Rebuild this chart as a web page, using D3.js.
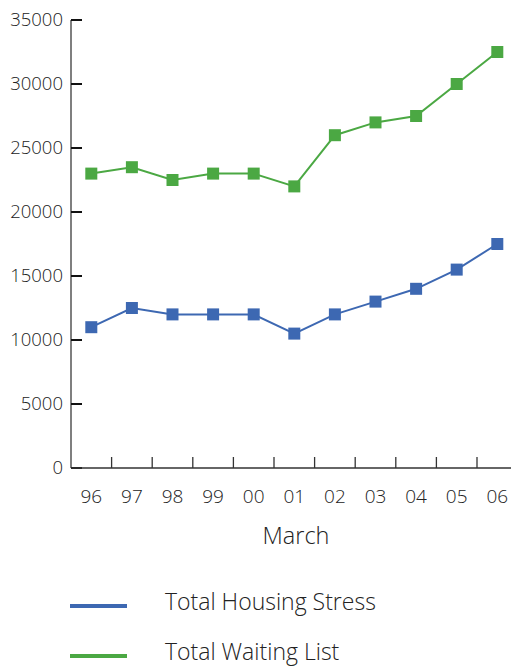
<!DOCTYPE html>
<html>
<head>
<meta charset="utf-8">
<script src="https://cdn.jsdelivr.net/npm/d3@7"></script>
<style>
  html, body { margin: 0; padding: 0; background: #fff; }
  svg { display: block; font-family: "Open Sans", "Noto Sans", sans-serif; font-weight: 300; }
</style>
</head>
<body>
<svg id="chart" width="511" height="668"></svg>
<script>
// Years (March of each year) and the two series
const years = ["96", "97", "98", "99", "00", "01", "02", "03", "04", "05", "06"];
const housingStress = [11000, 12500, 12000, 12000, 12000, 10500, 12000, 13000, 14000, 15500, 17500];
const waitingList = [23000, 23500, 22500, 23000, 23000, 22000, 26000, 27000, 27500, 30000, 32500];
const yTicks = [0, 5000, 10000, 15000, 20000, 25000, 30000, 35000];
const seriesNames = ["Total Housing Stress", "Total Waiting List"];
const seriesColors = ["#3d68b2", "#4ba843"];
const xTitle = "March";

const svg = d3.select("#chart");
const textColor = "#222";

const x = d3.scaleBand().domain(years).range([71, 517.6]).padding(0);
const y = d3.scaleLinear().domain([0, 35000]).range([468, 20]);

// y axis: spine, inward ticks, labels
svg.append("line")
  .attr("x1", 71).attr("x2", 71)
  .attr("y1", y(35000)).attr("y2", y(0))
  .attr("stroke", "#555").attr("stroke-width", 1.5);

const yt = svg.append("g");
yt.selectAll("line").data(yTicks).join("line")
  .attr("x1", 71).attr("x2", 82)
  .attr("y1", d => y(d)).attr("y2", d => y(d))
  .attr("stroke", "#111").attr("stroke-width", 2);
yt.selectAll("text").data(yTicks).join("text")
  .attr("x", 63).attr("y", d => y(d))
  .attr("dy", "0.35em")
  .attr("text-anchor", "end")
  .attr("fill", textColor)
  .attr("font-size", 18.5)
  .text(d => d);

// x axis: baseline, category boundary ticks pointing up, labels
svg.append("line")
  .attr("x1", 71).attr("x2", 517.6)
  .attr("y1", y(0)).attr("y2", y(0))
  .attr("stroke", "#333").attr("stroke-width", 1.5);

const boundaries = years.slice(1);
svg.append("g").selectAll("line").data(boundaries).join("line")
  .attr("x1", d => x(d)).attr("x2", d => x(d))
  .attr("y1", y(0)).attr("y2", y(0) - 11)
  .attr("stroke", "#333").attr("stroke-width", 1.3);

svg.append("g").selectAll("text").data(years).join("text")
  .attr("x", d => x(d) + x.bandwidth() / 2)
  .attr("y", 496)
  .attr("dy", "0.35em")
  .attr("text-anchor", "middle")
  .attr("fill", textColor)
  .attr("font-size", 19)
  .text(d => d);

svg.append("text")
  .attr("x", 296).attr("y", 536)
  .attr("dy", "0.35em")
  .attr("text-anchor", "middle")
  .attr("fill", textColor)
  .attr("font-size", 23.5)
  .text(xTitle);

// series lines with square markers
const series = [housingStress, waitingList];
const line = d3.line()
  .x((d, i) => x(years[i]) + x.bandwidth() / 2)
  .y(d => y(d));

series.forEach((vals, si) => {
  const g = svg.append("g");
  g.append("path")
    .datum(vals)
    .attr("d", line)
    .attr("fill", "none")
    .attr("stroke", seriesColors[si])
    .attr("stroke-width", 2);
  const s = 12;
  g.selectAll("rect").data(vals).join("rect")
    .attr("x", (d, i) => x(years[i]) + x.bandwidth() / 2 - s / 2)
    .attr("y", d => y(d) - s / 2)
    .attr("width", s).attr("height", s)
    .attr("fill", seriesColors[si]);
});

// legend (second row kept just inside the bottom edge)
const legendY = [606, 656];
seriesNames.forEach((name, i) => {
  svg.append("line")
    .attr("x1", 70).attr("x2", 127)
    .attr("y1", legendY[i]).attr("y2", legendY[i])
    .attr("stroke", seriesColors[i]).attr("stroke-width", 4);
  svg.append("text")
    .attr("x", 165).attr("y", legendY[i] - 4)
    .attr("dy", "0.35em")
    .attr("fill", textColor)
    .attr("font-size", 23)
    .text(name);
});
</script>
</body>
</html>
